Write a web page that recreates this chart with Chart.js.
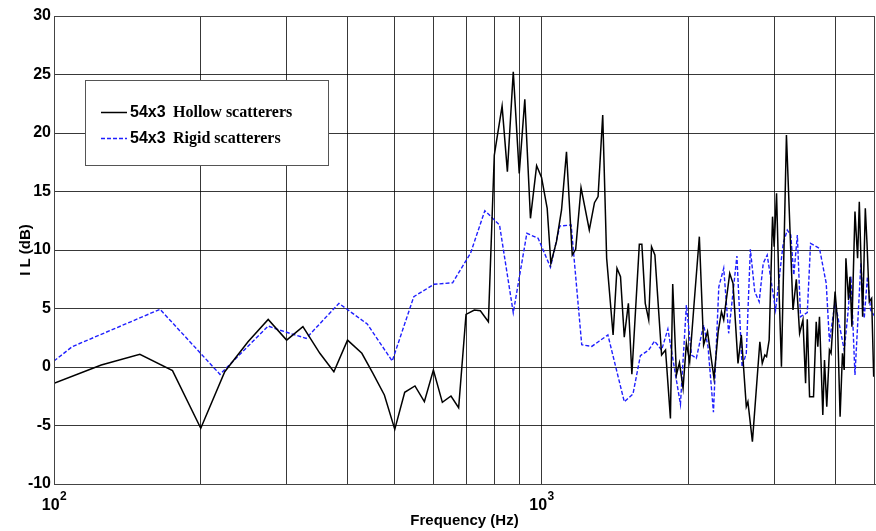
<!DOCTYPE html>
<html>
<head>
<meta charset="utf-8">
<script src="https://cdn.jsdelivr.net/npm/chart.js@4/dist/chart.umd.min.js"></script>
<style>
  html, body { margin: 0; padding: 0; background: #fff; }
  #wrap { width: 876px; height: 531px; }
</style>
</head>
<body>
<div id="wrap"><canvas id="chart" width="876" height="531"></canvas></div>
<script>
// series labels
const seriesLabels = ['54x3  Hollow scatterers', '54x3  Rigid scatterers'];

// hollow scatterers (black, solid)
const hollowFreq = [100, 125, 150, 175, 200, 224, 250, 275, 300, 324, 351, 375, 400, 428, 451, 476, 500, 524, 550, 575,
  600, 626, 652, 676, 700, 728, 749, 778, 800, 809, 830, 851, 875, 900, 924, 949, 977, 1000, 1027, 1045,
  1073, 1099, 1125, 1156, 1175, 1205, 1253, 1284, 1306, 1335, 1360, 1402, 1428, 1452, 1478, 1507, 1532, 1587, 1606, 1632,
  1659, 1681, 1708, 1763, 1796, 1838, 1858, 1891, 1918, 1951, 1982, 2013, 2058, 2107, 2150, 2190, 2258, 2303, 2339, 2364,
  2432, 2470, 2529, 2569, 2630, 2650, 2707, 2804, 2836, 2871, 2894, 2930, 2977, 3000, 3034, 3071, 3105, 3179, 3279, 3331,
  3383, 3437, 3480, 3508, 3546, 3613, 3659, 3687, 3716, 3775, 3805, 3846, 3895, 3925, 4000, 4045, 4096, 4142, 4176, 4210,
  4262, 4291, 4331, 4394, 4449, 4485, 4556, 4614, 4651, 4702, 4754, 4800, 4830];
const hollowIL = [-1.4, 0.17, 1.08, -0.31, -5.24, -0.4, 2.16, 4.07, 2.3, 3.45, 1.17, -0.4, 2.3, 1.17, -0.54, -2.39, -5.33, -2.16, -1.62, -2.96,
  -0.26, -3.02, -2.48, -3.48, 4.5, 4.87, 4.81, 3.87, 18.1, 19.4, 22.3, 16.7, 25.24, 16.55, 22.88, 12.71, 17.21, 16.21, 13.56, 8.86,
  10.71, 13.42, 18.4, 9.57, 10.06, 15.33, 11.71, 14.04, 14.56, 21.54, 9.29, 2.74, 8.44, 7.72, 2.54, 5.44, -0.62, 10.49, 10.49, 5.44,
  4.02, 10.28, 9.57, 1.03, 1.45, -4.39, 7.09, -0.68, 0.37, -1.82, 2.03, 0.45, 5.73, 11.14, 1.88, 3.02, -0.97, 3.02, 4.73, 4.02,
  8.0, 7.15, 0.31, 2.74, -3.39, -2.97, -6.38, 2.16, 0.31, 1.03, 0.88, 2.31, 12.85, 10.28, 14.85, 6.3, 0.03, 19.83, 4.87, 7.49,
  2.88, 4.02, -1.39, 4.07, -2.54, -2.54, 3.87, 1.74, 4.3, -4.1, 0.6, -3.39, 1.45, 1.17, 6.44, 4.02, -4.25, 1.17, -0.26, 9.29,
  5.73, 7.72, 3.45, 13.28, 9.29, 14.13, 4.3, 13.56, 10.57, 5.58, 5.87, -0.83, 0.03];

// rigid scatterers (blue, dashed)
const rigidFreq = [100, 109, 165, 219, 275, 290, 329, 384, 439, 494, 547, 602, 657, 715, 765, 820, 875, 933, 984, 1043,
  1090, 1150, 1209, 1268, 1314, 1368, 1478, 1540, 1595, 1659, 1705, 1763, 1816, 1927, 1982, 2030, 2077, 2150, 2195, 2252,
  2310, 2364, 2420, 2516, 2578, 2630, 2681, 2737, 2795, 2849, 2903, 3020, 3131, 3192, 3245, 3292, 3347, 3398, 3508, 3563,
  3716, 3836, 3895, 4000, 4064, 4176, 4244, 4312, 4394, 4519, 4590, 4661, 4731, 4830];
const rigidIL = [0.51, 1.74, 4.93, -0.63, 3.5, 3.16, 2.45, 5.44, 3.68, 0.51, 6.01, 7.07, 7.2, 9.72, 13.36, 12.14, 4.64, 11.43, 11.0, 8.52,
  12.05, 12.14, 1.9, 1.76, 2.22, 2.74, -2.97, -2.31, 0.97, 1.45, 2.22, 1.45, 3.25, -3.19, 5.3, 1.03, 0.74, 3.59, 1.74, -3.87,
  6.86, 8.44, 2.88, 9.49, 0.03, 1.17, 10.06, 6.44, 5.58, 8.86, 9.57, 4.87, 10.57, 11.71, 11.28, 7.86, 11.28, 4.3, 4.64, 10.57,
  10.14, 7.15, 2.16, 5.58, 4.02, 1.45, 4.3, 7.72, -0.68, 8.86, 4.16, 7.72, 4.87, 4.3];

// axes
const freqMin = 100;
const freqMax = 4830;
const freqGrid = [100, 200, 300, 400, 500, 600, 700, 800, 900, 1000, 2000, 3000, 4000];
const freqLabelled = [100, 1000];
const ilMin = -10;
const ilMax = 30;
const ilStep = 5;

const toPoints = (xs, ys) => xs.map((x, i) => ({ x: x, y: ys[i] }));

const sans = '"Liberation Sans", Arial, sans-serif';
const serif = '"Liberation Serif", "Times New Roman", serif';

// plot box, 10^n tick labels and the legend inside the plot
const framePlugin = {
  id: 'frame',
  afterDraw(chart) {
    const ctx = chart.ctx;
    const a = chart.chartArea;
    ctx.save();
    ctx.strokeStyle = '#444';
    ctx.lineWidth = 1;
    ctx.strokeRect(Math.round(a.left) + 0.5, Math.round(a.top) + 0.5,
      Math.round(a.right - a.left) - 1, Math.round(a.bottom - a.top));

    // x labels as 10 with a raised exponent
    const xs = chart.scales.x;
    ctx.fillStyle = '#000';
    ctx.textBaseline = 'alphabetic';
    ctx.textAlign = 'left';
    freqLabelled.forEach(v => {
      const base = '10';
      const exp = String(Math.round(Math.log10(v)));
      ctx.font = 'bold 16px ' + sans;
      const wb = ctx.measureText(base).width;
      ctx.font = 'bold 12px ' + sans;
      const we = ctx.measureText(exp).width;
      const x0 = xs.getPixelForValue(v) - (wb + we) / 2;
      ctx.font = 'bold 16px ' + sans;
      ctx.fillText(base, x0, 510);
      ctx.font = 'bold 12px ' + sans;
      ctx.fillText(exp, x0 + wb + 0.5, 500);
    });

    // legend
    const bx = 85.5, by = 80.5, bw = 243, bh = 85;
    ctx.fillStyle = '#fff';
    ctx.fillRect(bx, by, bw, bh);
    ctx.strokeStyle = '#555';
    ctx.strokeRect(bx, by, bw, bh);
    chart.data.datasets.forEach((ds, i) => {
      const y = 112 + i * 26;
      ctx.beginPath();
      ctx.strokeStyle = ds.borderColor;
      ctx.lineWidth = ds.borderWidth;
      ctx.setLineDash(ds.borderDash || []);
      ctx.moveTo(101, y + 0.5);
      ctx.lineTo(127, y + 0.5);
      ctx.stroke();
      ctx.setLineDash([]);
      const parts = ds.label.split('  ');
      ctx.fillStyle = '#000';
      ctx.textBaseline = 'middle';
      ctx.font = 'bold 16px ' + sans;
      ctx.fillText(parts[0], 130, y + 1);
      ctx.font = 'bold 16px ' + serif;
      ctx.fillText(parts.slice(1).join(' '), 173, y + 1);
    });
    ctx.restore();
  }
};

const gridColor = 'rgba(0,0,0,0.78)';

new Chart(document.getElementById('chart'), {
  type: 'line',
  data: {
    datasets: [
      {
        label: seriesLabels[0],
        data: toPoints(hollowFreq, hollowIL),
        borderColor: '#000000',
        borderWidth: 1.5,
        pointRadius: 0,
        tension: 0,
        fill: false
      },
      {
        label: seriesLabels[1],
        data: toPoints(rigidFreq, rigidIL),
        borderColor: '#1f1fff',
        borderWidth: 1.4,
        borderDash: [4, 2],
        pointRadius: 0,
        tension: 0,
        fill: false
      }
    ]
  },
  options: {
    responsive: false,
    animation: false,
    layout: { padding: { top: 16, right: 1, left: 0, bottom: 0 } },
    plugins: {
      legend: { display: false },
      tooltip: { enabled: false }
    },
    scales: {
      x: {
        type: 'logarithmic',
        min: freqMin,
        max: freqMax,
        afterBuildTicks(scale) {
          scale.ticks = freqGrid.map(v => ({ value: v }));
        },
        afterFit(scale) { scale.height = 47; },
        grid: { color: gridColor, lineWidth: 1, drawTicks: false },
        border: { display: true, color: '#444' },
        ticks: {
          autoSkip: false,
          maxRotation: 0,
          callback: () => ''
        },
        title: {
          display: true,
          text: 'Frequency (Hz)',
          color: '#000',
          padding: { top: 0, bottom: 1 },
          font: { family: sans, size: 15, weight: 'bold' }
        }
      },
      y: {
        min: ilMin,
        max: ilMax,
        afterFit(scale) { scale.width = 54; },
        grid: { color: gridColor, lineWidth: 1, drawTicks: false },
        border: { display: true, color: '#444' },
        ticks: {
          stepSize: ilStep,
          padding: 3,
          color: '#000',
          font: { family: sans, size: 16, weight: 'bold' }
        },
        title: {
          display: true,
          text: 'I L (dB)',
          color: '#000',
          padding: { top: 17, bottom: 0 },
          font: { family: sans, size: 15, weight: 'bold' }
        }
      }
    }
  },
  plugins: [framePlugin]
});
</script>
</body>
</html>
